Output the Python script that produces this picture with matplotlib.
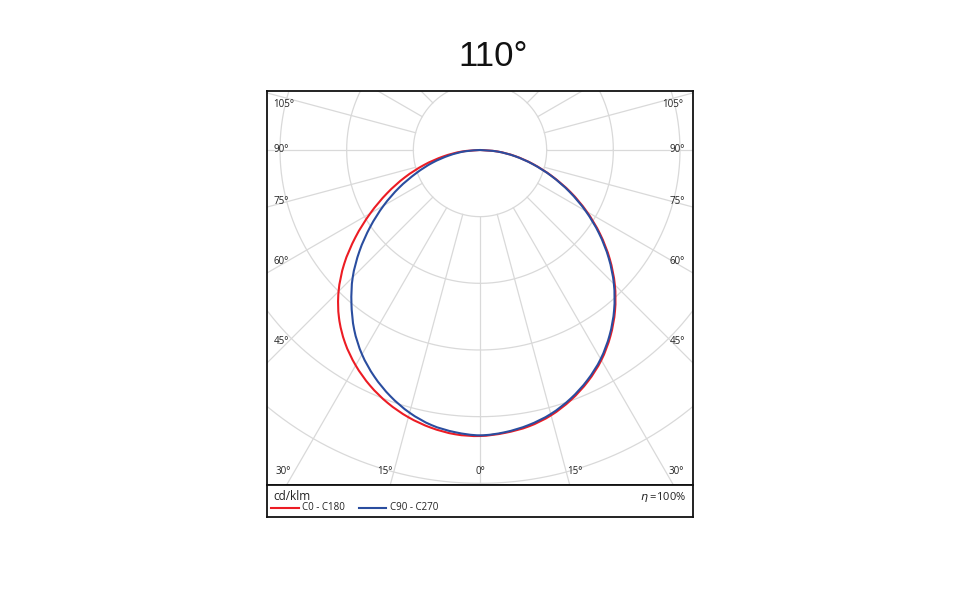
import numpy as np
import matplotlib
matplotlib.use("Agg")
import matplotlib.pyplot as plt
from matplotlib.path import Path
from matplotlib.patches import PathPatch

# ---------------- data (cd/klm) ----------------
gamma = [0, 5, 10, 15, 20, 25, 30, 35, 40, 45, 50, 55, 60, 65, 70, 75, 80, 85, 90]
c0 = [429, 426, 421, 412, 399, 383, 364, 341, 315, 286, 254, 220, 185, 150, 115, 83, 54, 27, 0]
c180 = [429, 428, 423, 415, 404, 390, 373, 353, 329, 300, 266, 228, 190, 154, 120, 87, 56, 28, 0]
c90 = [428, 425, 419, 410, 397, 381, 362, 339, 313, 284, 252, 218, 183, 148, 114, 82, 53, 26, 0]
c270 = [428, 425, 419, 408, 393, 375, 354, 329, 300, 270, 236, 201, 167, 134, 102, 74, 47, 23, 0]
grid_rings = [100, 200, 300, 400, 500, 600]
title = "110°"
unit = "cd/klm"
efficiency = "100%"
series_names = ["C0 - C180", "C90 - C270"]
angle_labels_left = ["105°", "90°", "75°", "60°", "45°", "30°"]
angle_labels_bottom = ["15°", "0°", "15°"]
angle_labels_right = ["30°", "45°", "60°", "75°", "90°", "105°"]

RED = "#ec1c24"
BLUE = "#2a4d9f"
GRID = "#d9d9d9"

W, H = 967, 606
fig = plt.figure(figsize=(W / 100, H / 100), dpi=100)

def fx(px):
    return px / W

def fy(py):
    return 1 - py / H

# plot area (pixels: x 267..693, y 91..485; centre at 480,150)
L, R, T, B = 267, 693, 91, 485
cx, cy = 480, 150
k = 1.5  # cd/klm per pixel
ax = fig.add_axes([fx(L), fy(B), (R - L) / W, (B - T) / H])
ax.set_xlim((L - cx) * k, (R - cx) * k)
ax.set_ylim((cy - B) * k, (cy - T) * k)
ax.set_xticks([])
ax.set_yticks([])
for s in ax.spines.values():
    s.set_linewidth(1.3)
    s.set_color("#111111")

# grid rings
t = np.linspace(0, 2 * np.pi, 720)
for r in grid_rings:
    ax.plot(r * np.cos(t), r * np.sin(t), color=GRID, lw=0.9, zorder=1)
# radial lines every 15 deg starting at inner ring
for a in range(0, 360, 15):
    ar = np.radians(a)
    r0, r1 = grid_rings[0], 1000
    ax.plot([r0 * np.sin(ar), r1 * np.sin(ar)], [-r0 * np.cos(ar), -r1 * np.cos(ar)],
            color=GRID, lw=0.9, zorder=1)

def half(vals, side):
    g = np.radians(gamma)
    v = np.array(vals, dtype=float)
    return side * v * np.sin(g), -v * np.cos(g)

def smooth_curve(left_vals, right_vals, color, z):
    xl, yl = half(left_vals, -1)
    xr, yr = half(right_vals, 1)
    x = np.concatenate([xl[::-1], xr[1:]])
    y = np.concatenate([yl[::-1], yr[1:]])
    P = np.column_stack([x, y])
    n = len(P)
    verts = [P[0]]
    codes = [Path.MOVETO]
    for i in range(n - 1):
        p0 = P[max(i - 1, 0)]
        p1 = P[i]
        p2 = P[i + 1]
        p3 = P[min(i + 2, n - 1)]
        verts += [p1 + (p2 - p0) / 6, p2 - (p3 - p1) / 6, p2]
        codes += [Path.CURVE4] * 3
    patch = PathPatch(Path(verts, codes), facecolor="none", edgecolor=color, lw=1.5, zorder=z)
    ax.add_patch(patch)

smooth_curve(c180, c0, RED, 3)
smooth_curve(c270, c90, BLUE, 4)

# angle labels
lab_font = dict(fontsize=7, color="#222222", ha="center", va="center", family="Open Sans")
left_pos = [(284, 105), (281, 150), (281, 201), (281, 262), (281, 342), (283, 472)]
bottom_pos = [(385, 472), (480, 472), (575, 472)]
right_pos = [(676, 472), (677, 342), (677, 262), (677, 201), (677, 150), (673, 105)]
for txt, (px, py) in zip(angle_labels_left, left_pos):
    fig.text(fx(px), fy(py), txt, **lab_font)
for txt, (px, py) in zip(angle_labels_bottom, bottom_pos):
    fig.text(fx(px), fy(py), txt, **lab_font)
for txt, (px, py) in zip(angle_labels_right, right_pos):
    fig.text(fx(px), fy(py), txt, **lab_font)

# legend area
lax = fig.add_axes([fx(L), fy(517), (R - L) / W, (517 - B) / H])
lax.set_xlim(L, R)
lax.set_ylim(517, B)
lax.set_xticks([])
lax.set_yticks([])
for s in lax.spines.values():
    s.set_linewidth(1.3)
    s.set_color("#111111")
lax.text(273, 496, unit, fontsize=8.5, ha="left", va="center", family="Open Sans", color="#222222")
lax.plot([271, 299], [508, 508], color=RED, lw=1.5)
lax.text(302, 508, series_names[0], fontsize=7, ha="left", va="center", family="Open Sans", color="#222222")
lax.plot([359, 386], [508, 508], color=BLUE, lw=1.5)
lax.text(390, 508, series_names[1], fontsize=7, ha="left", va="center", family="Open Sans", color="#222222")
lax.text(686, 497, r"$\eta$ =" + efficiency, fontsize=8, ha="right", va="center", family="Open Sans", color="#222222")

fig.text(fx(493), fy(57), title, fontsize=25, ha="center", va="center", family="Liberation Sans", color="#111111")

fig.savefig("out.png", dpi=100)
